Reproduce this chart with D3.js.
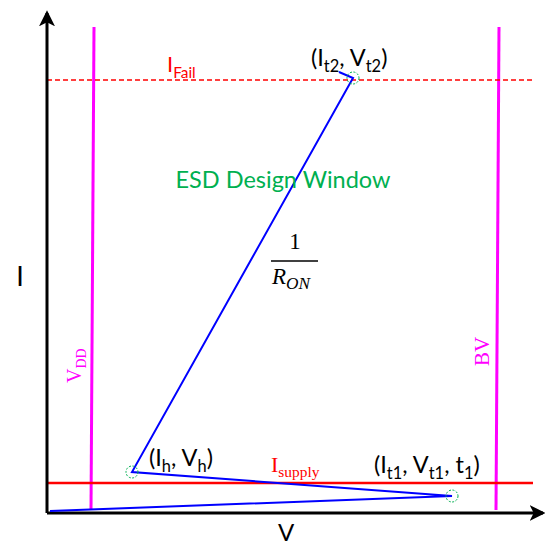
<!DOCTYPE html>
<html>
<head>
<meta charset="utf-8">
<script src="https://cdn.jsdelivr.net/npm/d3@7"></script>
<style>
  html, body { margin: 0; padding: 0; background: #fff; }
  svg { display: block; }
</style>
</head>
<body>
<svg id="chart" width="545" height="547"></svg>
<script>
// Snapback I-V characteristic (arbitrary units on both axes)
const curveV = [3, 405, 85, 306, 292];
const curveI = [2, 17, 41, 435, 441];
const keyPointNames = ["t1", "h", "t2"];
const keyPointIndex = [1, 2, 3];

// Design-window boundaries
const vddV = [44, 47];      // bottom, top
const bvV = [449, 452];     // bottom, top
const boundI = [3, 486];
const failI = 433;
const supplyI = 30;

const x = d3.scaleLinear().domain([0, 500]).range([47, 547]);
const y = d3.scaleLinear().domain([0, 500]).range([513, 13]);

const svg = d3.select("#chart");
const font = "Lato, 'Open Sans', sans-serif";
const serif = "'Liberation Serif', 'DejaVu Serif', serif";

// arrowhead marker
const defs = svg.append("defs");
defs.append("marker")
  .attr("id", "arrow")
  .attr("viewBox", "0 0 12 12")
  .attr("refX", 10).attr("refY", 6)
  .attr("markerUnits", "userSpaceOnUse")
  .attr("markerWidth", 16).attr("markerHeight", 16)
  .attr("orient", "auto")
  .append("path")
  .attr("d", "M0,0 L12,6 L0,12 L3,6 Z")
  .attr("fill", "#000");

const line = d3.line().x(d => x(d[0])).y(d => y(d[1]));

// boundary lines
svg.append("path")
  .attr("d", line([[vddV[0], boundI[0]], [vddV[1], boundI[1]]]))
  .attr("stroke", "#ff00ff").attr("stroke-width", 3).attr("fill", "none");
svg.append("path")
  .attr("d", line([[bvV[0], boundI[0]], [bvV[1], boundI[1]]]))
  .attr("stroke", "#ff00ff").attr("stroke-width", 3).attr("fill", "none");

svg.append("path")
  .attr("d", line([[0, failI], [488, failI]]))
  .attr("stroke", "#ff0000").attr("stroke-width", 1.5)
  .attr("stroke-dasharray", "5,3").attr("fill", "none");
svg.append("path")
  .attr("d", line([[0, supplyI], [486, supplyI]]))
  .attr("stroke", "#ff0000").attr("stroke-width", 2.5).attr("fill", "none");

// axes
svg.append("path")
  .attr("d", line([[0, 0], [0, 500]]))
  .attr("stroke", "#000").attr("stroke-width", 3)
  .attr("marker-end", "url(#arrow)");
svg.append("path")
  .attr("d", line([[0, 0], [496, 0]]))
  .attr("stroke", "#000").attr("stroke-width", 3)
  .attr("marker-end", "url(#arrow)");

// I-V curve
const pts = curveV.map((v, i) => [v, curveI[i]]);
svg.append("path")
  .attr("d", line(pts))
  .attr("stroke", "#0000ff").attr("stroke-width", 2)
  .attr("stroke-linejoin", "miter")
  .attr("fill", "none");

// key points
svg.selectAll("circle.key")
  .data(keyPointIndex)
  .join("circle")
  .attr("class", "key")
  .attr("cx", i => x(curveV[i]))
  .attr("cy", i => y(curveI[i]))
  .attr("r", 6)
  .attr("fill", "none")
  .attr("stroke", "#00b050")
  .attr("stroke-width", 1)
  .attr("stroke-dasharray", "2,1.5");

// text helpers
function subText(sel, parts, opts) {
  const t = sel.append("text")
    .attr("x", opts.x).attr("y", opts.y)
    .attr("font-family", opts.family || font)
    .attr("font-size", opts.size)
    .attr("fill", opts.color || "#000");
  if (opts.anchor) t.attr("text-anchor", opts.anchor);
  if (opts.transform) t.attr("transform", opts.transform);
  parts.forEach(p => {
    const ts = t.append("tspan").text(p.t);
    if (p.sub) {
      ts.attr("font-size", opts.size * (opts.subScale || 0.7)).attr("dy", opts.subShift || 6);
    } else if (p.back) {
      ts.attr("dy", -(opts.subShift || 6));
    }
  });
  return t;
}

// axis titles
svg.append("text").attr("x", 20).attr("y", 286)
  .attr("font-family", font).attr("font-size", 27).attr("text-anchor", "middle").text("I");
svg.append("text").attr("x", 286).attr("y", 541)
  .attr("font-family", font).attr("font-size", 24).attr("text-anchor", "middle").text("V");

// design window title
svg.append("text").attr("x", 283).attr("y", 188)
  .attr("font-family", font).attr("font-size", 23.5).attr("text-anchor", "middle")
  .attr("fill", "#00b050").text("ESD Design Window");

// point labels
subText(svg, [{t: "(I"}, {t: "t2", sub: true}, {t: ", V", back: true}, {t: "t2", sub: true}, {t: ")", back: true}],
  {x: 311, y: 66, size: 23.5});
subText(svg, [{t: "(I"}, {t: "h", sub: true}, {t: ", V", back: true}, {t: "h", sub: true}, {t: ")", back: true}],
  {x: 149, y: 466, size: 23.5});
subText(svg, [{t: "(I"}, {t: "t1", sub: true}, {t: ", V", back: true}, {t: "t1", sub: true}, {t: ", t", back: true}, {t: "1", sub: true}, {t: ")", back: true}],
  {x: 374, y: 473, size: 23.5});

// current limits
subText(svg, [{t: "I"}, {t: "Fail", sub: true}],
  {x: 167, y: 72, size: 22, color: "#ff0000"});
subText(svg, [{t: "I"}, {t: "supply", sub: true}],
  {x: 271, y: 472, size: 22, color: "#ff0000", family: serif, subShift: 5});

// voltage limits (rotated)
subText(svg, [{t: "V"}, {t: "DD", sub: true}],
  {x: 0, y: 0, size: 20, color: "#ff00ff", family: serif, subShift: 5,
   transform: "translate(81,383) rotate(-90)"});
subText(svg, [{t: "BV"}],
  {x: 0, y: 0, size: 21, color: "#ff00ff", family: serif,
   transform: "translate(489,366) rotate(-90)"});

// slope annotation 1/R_ON
svg.append("text").attr("x", 295).attr("y", 249)
  .attr("font-family", serif).attr("font-size", 23).attr("text-anchor", "middle").text("1");
svg.append("line").attr("x1", 271).attr("x2", 318).attr("y1", 261).attr("y2", 261)
  .attr("stroke", "#000").attr("stroke-width", 1.5);
subText(svg, [{t: "R"}, {t: "ON", sub: true}],
  {x: 272, y: 284, size: 23, family: serif, subShift: 5, subScale: 0.75})
  .attr("font-style", "italic");
</script>
</body>
</html>
